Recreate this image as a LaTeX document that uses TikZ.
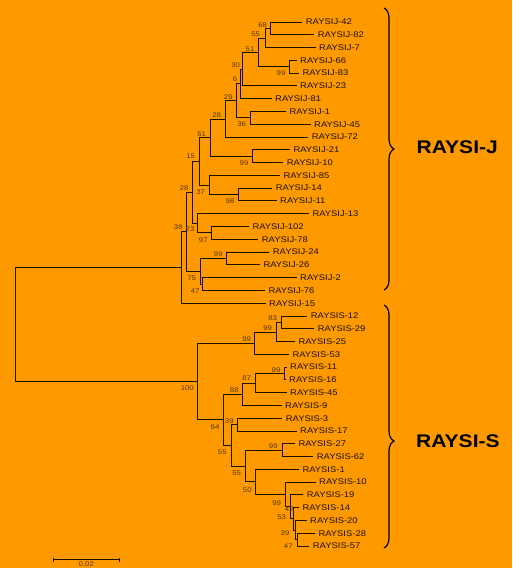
\documentclass[tikz,border=0pt]{standalone}
\usepackage{fontspec}
\setmainfont{Liberation Sans}
\newfontfamily\lf[FakeStretch=1.15]{Liberation Sans}
\usetikzlibrary{decorations.pathreplacing}
\definecolor{bg}{RGB}{255,153,0}
\definecolor{ln}{RGB}{25,16,0}
\definecolor{lt}{RGB}{25,16,0}
\definecolor{bt}{RGB}{85,55,0}
\newcommand\clade[3]{\draw[br] (#2) -- (#1 |- #2) -- (#1 |- #3) -- (#3);}
\begin{document}
\begin{tikzpicture}[x=1pt,y=-1pt,
 br/.style={draw=ln,line width=1pt},
 leaf/.style={anchor=west,inner xsep=3.3pt,inner ysep=0pt,text=lt,font=\lf\fontsize{8.2}{8.2}\selectfont},
 bs/.style={inner sep=0pt,text=bt,font=\lf\fontsize{6.8}{6.8}\selectfont},
 grp/.style={anchor=west,inner sep=0pt,text=black,font=\lf\bfseries\fontsize{18.3}{18.3}\selectfont},
 brc/.style={draw=black,line width=1.2pt,decorate,decoration={brace,amplitude=10pt}}]
\useasboundingbox (0,0) rectangle (512,568);
\fill[bg] (0,0) rectangle (512,568);
% leaves RAYSI-J
\node[leaf] (L42) at (302.4,22.0) {RAYSIJ-42};
\node[leaf] (L82) at (314.4,34.8) {RAYSIJ-82};
\node[leaf] (L7) at (315.7,47.6) {RAYSIJ-7};
\node[leaf] (L66) at (296.7,60.3) {RAYSIJ-66};
\node[leaf] (L83) at (299.0,73.1) {RAYSIJ-83};
\node[leaf] (L23) at (296.7,85.9) {RAYSIJ-23};
\node[leaf] (L81) at (271.7,98.7) {RAYSIJ-81};
\node[leaf] (L1) at (286.0,111.5) {RAYSIJ-1};
\node[leaf] (L45) at (310.7,124.2) {RAYSIJ-45};
\node[leaf] (L72) at (308.4,137.0) {RAYSIJ-72};
\node[leaf] (L21) at (290.0,149.8) {RAYSIJ-21};
\node[leaf] (L10) at (283.4,162.6) {RAYSIJ-10};
\node[leaf] (L85) at (280.0,175.4) {RAYSIJ-85};
\node[leaf] (L14) at (272.4,188.1) {RAYSIJ-14};
\node[leaf] (L11) at (276.7,200.9) {RAYSIJ-11};
\node[leaf] (L13) at (309.0,213.7) {RAYSIJ-13};
\node[leaf] (L102) at (249.0,226.5) {RAYSIJ-102};
\node[leaf] (L78) at (258.4,239.3) {RAYSIJ-78};
\node[leaf] (L24) at (269.4,252.0) {RAYSIJ-24};
\node[leaf] (L26) at (260.0,264.8) {RAYSIJ-26};
\node[leaf] (L2) at (296.7,277.6) {RAYSIJ-2};
\node[leaf] (L76) at (265.0,290.4) {RAYSIJ-76};
\node[leaf] (L15) at (265.7,303.2) {RAYSIJ-15};
% leaves RAYSI-S
\node[leaf] (M12) at (307.4,316.0) {RAYSIS-12};
\node[leaf] (M29) at (314.4,328.7) {RAYSIS-29};
\node[leaf] (M25) at (295.0,341.5) {RAYSIS-25};
\node[leaf] (M53) at (289.0,354.3) {RAYSIS-53};
\node[leaf] (M11) at (286.7,367.1) {RAYSIS-11};
\node[leaf] (M16) at (285.7,379.8) {RAYSIS-16};
\node[leaf] (M45) at (286.7,392.6) {RAYSIS-45};
\node[leaf] (M9) at (281.7,405.4) {RAYSIS-9};
\node[leaf] (M3) at (282.4,418.2) {RAYSIS-3};
\node[leaf] (M17) at (296.7,431.0) {RAYSIS-17};
\node[leaf] (M27) at (295.0,443.7) {RAYSIS-27};
\node[leaf] (M62) at (313.4,456.5) {RAYSIS-62};
\node[leaf] (M1) at (299.0,469.3) {RAYSIS-1};
\node[leaf] (M10) at (315.7,482.1) {RAYSIS-10};
\node[leaf] (M19) at (303.4,494.9) {RAYSIS-19};
\node[leaf] (M14) at (299.0,507.6) {RAYSIS-14};
\node[leaf] (M20) at (306.7,520.4) {RAYSIS-20};
\node[leaf] (M28) at (315.0,533.2) {RAYSIS-28};
\node[leaf] (M57) at (309.4,546.0) {RAYSIS-57};
% internal nodes
\coordinate (n68) at (270,28.4);
\coordinate (n55) at (265,38);
\coordinate (n99a) at (289.3,66.7);
\coordinate (n51a) at (258.3,52.4);
\coordinate (n30) at (242.7,69.1);
\coordinate (n6) at (240.7,83.9);
\coordinate (n36) at (250,117.9);
\coordinate (n29) at (236.7,100.9);
\coordinate (n28a) at (225,119);
\coordinate (n99b) at (252.7,156.2);
\coordinate (n51b) at (210,137.6);
\coordinate (n98) at (238.3,194.5);
\coordinate (n37) at (209,185);
\coordinate (n15) at (199,161.3);
\coordinate (n97) at (211.7,232.9);
\coordinate (n23) at (197.7,223.3);
\coordinate (n28b) at (192.3,192.3);
\coordinate (n99c) at (226.7,258.4);
\coordinate (n47a) at (202.3,284);
\coordinate (n75) at (200,271.2);
\coordinate (n38) at (186.7,231.8);
\coordinate (nJ) at (181.7,267.5);
\coordinate (n83) at (281,322.4);
\coordinate (n99d) at (276,332);
\coordinate (n99e) at (254.7,343.1);
\coordinate (n99f) at (284.3,373.5);
\coordinate (n87) at (255.5,383);
\coordinate (n88) at (242.5,394.2);
\coordinate (n39a) at (237.7,424.6);
\coordinate (n99g) at (282.3,450.1);
\coordinate (n47b) at (297.3,539.6);
\coordinate (n39b) at (295,530);
\coordinate (n53) at (293.3,518.8);
\coordinate (n42) at (290,506.9);
\coordinate (n99h) at (285.7,494.5);
\coordinate (n50) at (255.7,481.9);
\coordinate (n55b) at (245,466);
\coordinate (n55a) at (231,445.3);
\coordinate (n94) at (223,419.8);
\coordinate (n100) at (197.5,381.4);
\coordinate (root) at (15.7,324.5);
% branches
\clade{n68}{L42}{L82}
\clade{n55}{n68}{L7}
\clade{n99a}{L66}{L83}
\clade{n51a}{n55}{n99a}
\clade{n30}{n51a}{L23}
\clade{n6}{n30}{L81}
\clade{n36}{L1}{L45}
\clade{n29}{n6}{n36}
\clade{n28a}{n29}{L72}
\clade{n99b}{L21}{L10}
\clade{n51b}{n28a}{n99b}
\clade{n98}{L14}{L11}
\clade{n37}{L85}{n98}
\clade{n15}{n51b}{n37}
\clade{n97}{L102}{L78}
\clade{n23}{L13}{n97}
\clade{n28b}{n15}{n23}
\clade{n99c}{L24}{L26}
\clade{n47a}{L2}{L76}
\clade{n75}{n99c}{n47a}
\clade{n38}{n28b}{n75}
\clade{nJ}{n38}{L15}
\clade{n83}{M12}{M29}
\clade{n99d}{n83}{M25}
\clade{n99e}{n99d}{M53}
\clade{n99f}{M11}{M16}
\clade{n87}{n99f}{M45}
\clade{n88}{n87}{M9}
\clade{n39a}{M3}{M17}
\clade{n99g}{M27}{M62}
\clade{n47b}{M28}{M57}
\clade{n39b}{M20}{n47b}
\clade{n53}{M14}{n39b}
\clade{n42}{M19}{n53}
\clade{n99h}{M10}{n42}
\clade{n50}{M1}{n99h}
\clade{n55b}{n99g}{n50}
\clade{n55a}{n39a}{n55b}
\clade{n94}{n88}{n55a}
\clade{n100}{n99e}{n94}
\clade{root}{nJ}{n100}
% bootstrap values
\node[bs] (b68) at (262.7,25) {68};
\node[bs] (b55) at (255.7,34) {55};
\node[bs] (b51a) at (250,49) {51};
\node[bs] (b99a) at (281,73.3) {99};
\node[bs] (b30) at (235.7,65) {30};
\node[bs] (b6) at (235,79.3) {6};
\node[bs] (b29) at (228.3,97.3) {29};
\node[bs] (b36) at (241.7,124.3) {36};
\node[bs] (b28a) at (216.7,115) {28};
\node[bs] (b51b) at (201.7,134) {51};
\node[bs] (b15) at (190.7,156) {15};
\node[bs] (b99b) at (244,162.7) {99};
\node[bs] (b37) at (200.7,191.7) {37};
\node[bs] (b98) at (230,200.7) {98};
\node[bs] (b97) at (203.3,240) {97};
\node[bs] (b23) at (190,229.5) {23};
\node[bs] (b28b) at (184,188.3) {28};
\node[bs] (b38) at (178.3,227.5) {38};
\node[bs] (b99c) at (218.3,254.3) {99};
\node[bs] (b75) at (191.7,277.7) {75};
\node[bs] (b47a) at (195,291) {47};
\node[bs] (b83) at (272.7,317.7) {83};
\node[bs] (b99d) at (267.7,328.3) {99};
\node[bs] (b99e) at (246.7,339.3) {99};
\node[bs] (b99f) at (276,370) {99};
\node[bs] (b87) at (246.7,378.3) {87};
\node[bs] (b88) at (234.3,390) {88};
\node[bs] (b100) at (187.3,387.7) {100};
\node[bs] (b39a) at (229.3,421) {39};
\node[bs] (b94) at (215,426.7) {94};
\node[bs] (b55a) at (222.3,451.7) {55};
\node[bs] (b99g) at (273.3,446) {99};
\node[bs] (b55b) at (236.7,472.7) {55};
\node[bs] (b50) at (247.3,490) {50};
\node[bs] (b99h) at (276.7,502.7) {99};
\node[bs] (b42) at (289.3,509.3) {42};
\node[bs] (b53) at (281.7,517.3) {53};
\node[bs] (b39b) at (285,533.3) {39};
\node[bs] (b47b) at (288.3,546) {47};
% braces and group labels
\coordinate (jt) at (384,8);
\coordinate (jb) at (384,290);
\coordinate (st) at (384,305);
\coordinate (sb) at (384,548);
\draw[brc] (jt) -- (jb);
\draw[brc,decoration={brace,amplitude=10pt,aspect=0.56}] (st) -- (sb);
\node[grp] (gJ) at (416.5,147) {RAYSI-J};
\node[grp] (gS) at (416,441) {RAYSI-S};
% scale bar
\coordinate (s1) at (53.3,559.5);
\coordinate (s2) at (119.3,559.5);
\draw[br] (s1) -- (s2);
\draw[br] ([yshift=2pt]s1) -- ([yshift=-2pt]s1);
\draw[br] ([yshift=2pt]s2) -- ([yshift=-2pt]s2);
\node[bs,anchor=north] (sl) at (86.3,561.8) {0.02};
\end{tikzpicture}
\end{document}
